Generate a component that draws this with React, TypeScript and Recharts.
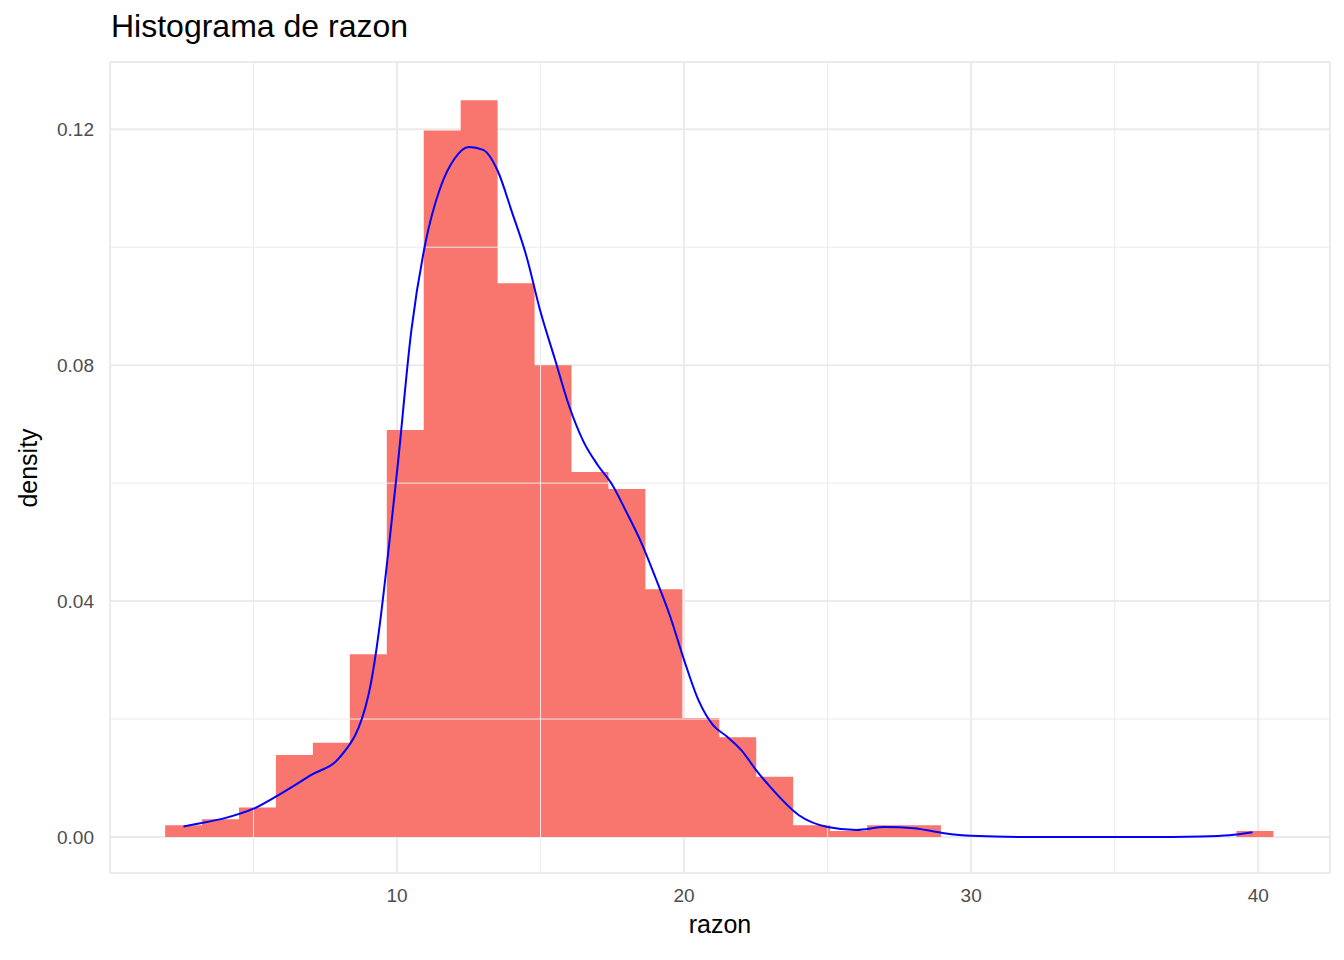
import React from "react";
import {
  Area,
  CartesianGrid,
  ComposedChart,
  Line,
  ReferenceLine,
  XAxis,
  YAxis,
} from "recharts";

// histogram bin edges (30 bins) and densities
const binStart = 1.92;
const binWidth = 1.287;
const binDensity = [
  0.002, 0.003, 0.005, 0.0139, 0.016, 0.031, 0.069, 0.1198, 0.1249, 0.0939,
  0.08, 0.0619, 0.059, 0.042, 0.0202, 0.0169, 0.0102, 0.002, 0.001, 0.002,
  0.002, 0, 0, 0, 0, 0, 0, 0, 0, 0.001,
];

// kernel density estimate
const densX = [
  2.56, 3, 4, 5, 6, 7, 8, 9, 10, 10.5, 11, 11.5, 12, 12.5, 13, 13.5, 14, 14.5,
  15, 15.5, 16, 16.5, 17, 17.5, 18, 18.5, 19, 19.5, 20, 20.5, 21, 21.5, 22,
  22.5, 23, 24, 25, 26, 27, 28, 29, 30, 32, 34, 36, 38, 39, 39.8,
];
const densY = [
  0.0018, 0.0022, 0.0032, 0.0048, 0.0075, 0.0105, 0.0135, 0.024, 0.062, 0.086,
  0.101, 0.11, 0.115, 0.117, 0.1165, 0.113, 0.106, 0.0986, 0.089, 0.081,
  0.073, 0.067, 0.063, 0.0597, 0.055, 0.05, 0.044, 0.0376, 0.03, 0.0232,
  0.019, 0.017, 0.0147, 0.0114, 0.0085, 0.0037, 0.0017, 0.0012, 0.0017,
  0.0015, 0.0007, 0.0002, 0, 0, 0, 0.0001, 0.0003, 0.0008,
];

const xTicks = [10, 20, 30, 40];
const yTicks = [0, 0.04, 0.08, 0.12];
const xMinor = [5, 15, 25, 35];
const yMinor = [0.02, 0.06, 0.1];

const histData = [
  ...binDensity.map((d, i) => ({ x: binStart + i * binWidth, hist: d })),
  { x: binStart + binDensity.length * binWidth, hist: binDensity[binDensity.length - 1] },
];
const densData = densX.map((x, i) => ({ x, dens: densY[i] }));

const tickStyle = { fill: "#4d4d4d", fontSize: 19, fontFamily: "Liberation Sans, Arial" };

export default function App() {
  return (
    <div
      style={{
        position: "absolute",
        left: 0,
        top: 0,
        width: 1344,
        height: 960,
        background: "#fff",
        fontFamily: "Liberation Sans, Arial, sans-serif",
      }}
    >
      <div style={{ position: "absolute", left: 111, top: 8, fontSize: 32, color: "#000" }}>
        Histograma de razon
      </div>
      <div
        style={{ position: "absolute", left: 0, width: 1440, top: 910, textAlign: "center", fontSize: 25 }}
      >
        razon
      </div>
      <div
        style={{
          position: "absolute",
          left: 28,
          top: 468,
          fontSize: 25,
          transform: "translate(-50%, -50%) rotate(-90deg)",
          whiteSpace: "nowrap",
        }}
      >
        density
      </div>
      <ComposedChart
        width={1344}
        height={960}
        margin={{ top: 62, right: 14, left: 40, bottom: 40 }}
      >
        <CartesianGrid stroke="#ebebeb" strokeWidth={2} />
        {xMinor.map((v) => (
          <ReferenceLine key={`x${v}`} x={v} stroke="#ebebeb" strokeWidth={1} />
        ))}
        {yMinor.map((v) => (
          <ReferenceLine key={`y${v}`} y={v} stroke="#ebebeb" strokeWidth={1} />
        ))}
        <XAxis
          type="number"
          dataKey="x"
          domain={[0, 42.5]}
          ticks={xTicks}
          allowDataOverflow
          height={47}
          tick={tickStyle}
          tickLine={false}
          axisLine={false}
          tickMargin={10}
        />
        <YAxis
          type="number"
          domain={[-0.0061, 0.1314]}
          ticks={yTicks}
          allowDataOverflow
          width={70}
          tick={tickStyle}
          tickFormatter={(v: number) => v.toFixed(2)}
          tickLine={false}
          axisLine={false}
          tickMargin={10}
        />
        <Area
          data={histData}
          dataKey="hist"
          type="stepAfter"
          stroke="none"
          fill="#f8766d"
          fillOpacity={1}
          baseValue={0}
          isAnimationActive={false}
        />
        <Line
          data={densData}
          dataKey="dens"
          type="monotone"
          stroke="#0000ff"
          strokeWidth={2}
          dot={false}
          isAnimationActive={false}
        />
      </ComposedChart>
    </div>
  );
}
